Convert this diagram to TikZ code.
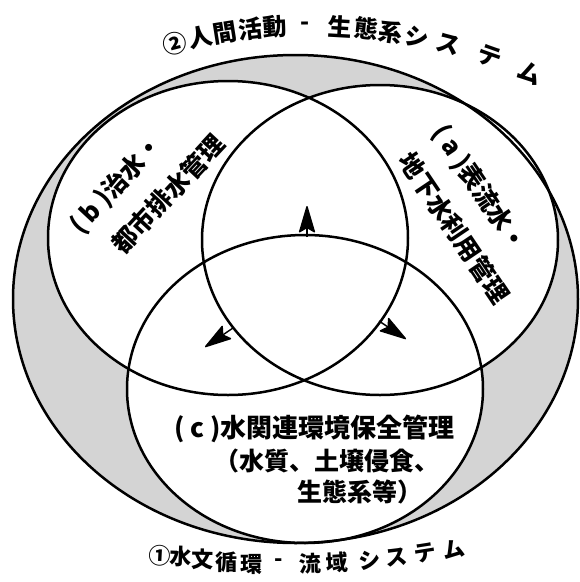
\documentclass[tikz,border=0pt]{standalone}
\usepackage{fontspec}
\setmainfont{Noto Sans CJK JP}
\usetikzlibrary{arrows.meta}
\begin{document}
\begin{tikzpicture}[x=1pt,y=-1pt,
  ring/.style={draw=black, line width=2.5pt},
  shadezone/.style={fill=black!17},
  hole/.style={fill=white},
  arclbl/.style={font=\bfseries\fontsize{24}{24}\selectfont, inner sep=0pt},
  footlbl/.style={font=\bfseries\fontsize{22}{22}\selectfont, inner sep=0pt},
  zonelbl/.style={font=\bfseries\fontsize{25}{25}\selectfont, inner sep=0pt},
  flowtip/.style={-{Stealth[length=29pt,width=17pt,inset=5pt,round]}, line width=1.4pt},
]
\useasboundingbox (0,0) rectangle (580,582);
\fill[white] (0,0) rectangle (580,582);
% shaded outer zone
\path[shadezone] (295.5,299) ellipse [x radius=282.5pt, y radius=244pt];
\path[hole] (228,238) ellipse [x radius=180pt, y radius=157pt];
\path[hole] (380,240) ellipse [x radius=178pt, y radius=155pt];
\path[hole] (305,389) ellipse [x radius=178pt, y radius=154pt];
% outlines
\draw[ring] (295.5,299) ellipse [x radius=282.5pt, y radius=244pt];
\draw[ring] (228,238) ellipse [x radius=180pt, y radius=157pt];
\draw[ring] (380,240) ellipse [x radius=178pt, y radius=155pt];
\draw[ring] (305,389) ellipse [x radius=178pt, y radius=154pt];
% arrow tips
\coordinate (upBase) at (307,237);
\coordinate (upTip) at (307,206);
\coordinate (leftBase) at (233,328);
\coordinate (leftTip) at (205,347);
\coordinate (rightBase) at (379,321);
\coordinate (rightTip) at (406,339);
\draw[flowtip] (upBase) -- (upTip);
\draw[flowtip] (leftBase) -- (leftTip);
\draw[flowtip] (rightBase) -- (rightTip);
% top curved label
\foreach \ang/\ch [count=\i] in {-14.48/②, -11.75/人, -9.06/間, -6.38/活, -3.72/動, -0.53/-, 3.18/生, 5.95/態, 8.63/系, 11.43/シ, 14.81/ス, 19.47/テ, 24.04/ム}
  \node[arclbl, rotate={-1*(\ang)}] (top\i) at ({310+540*sin(\ang)}, {566-540*cos(\ang)}) {\ch};
% bottom label
\foreach \x/\y/\r/\ch [count=\i] in {160/556/-3/①, 181/557/-2/水, 203/559/-1/文, 226/562/0/循, 251/564/0/環, 279/563/0/-, 310/564/2/流, 337/563/3/域, 370/560/5/シ, 396/557/7/ス, 425/553/9/テ, 454/549/11/ム}
  \node[footlbl, rotate=\r] (foot\i) at (\x,\y) {\ch};
% zone labels
\node[zonelbl, rotate=47] (b1) at (117,185) {( b )治水・};
\node[zonelbl, rotate=47] (b2) at (168,194) {都市排水管理};
\node[zonelbl, rotate=-56] (a1) at (479,189) {( a )表流水・};
\node[zonelbl, rotate=-56] (a2) at (454,228) {地下水利用管理};
\node[zonelbl, font=\bfseries\fontsize{26}{26}\selectfont, anchor=west] (c1) at (174,429) {( c )水関連環境保全管理};
\node[zonelbl, anchor=west] (c2) at (214,461) {（水質、土壌侵食、};
\node[zonelbl, anchor=west] (c3) at (297,492) {生態系等）};
\end{tikzpicture}
\end{document}
